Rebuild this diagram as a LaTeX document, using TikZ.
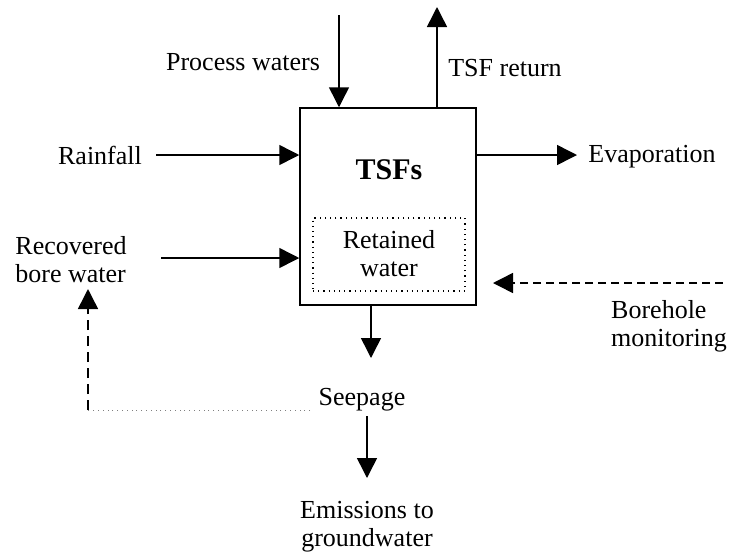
\documentclass[tikz,border=0pt]{standalone}
\usepackage{fontspec}
\setmainfont{Liberation Serif}
\usetikzlibrary{arrows.meta}
\begin{document}
\begin{tikzpicture}[x=0.5pt,y=-0.5pt,
  every node/.style={font=\fontsize{13}{14}\selectfont, inner sep=0pt, align=center},
  flow/.style={line width=0.75pt, -{Triangle[length=10pt,width=10pt]}},
  dflow/.style={flow, dash pattern=on 4pt off 2.5pt}]
  \useasboundingbox (0,0) rectangle (729,553);

  % tailings storage facility and its retained water
  \node[draw, line width=0.75pt, minimum width=88pt, minimum height=98.5pt] (box) at (388,206.5) {};
  \node[draw, dotted, line width=0.6pt, minimum width=76pt, minimum height=36.5pt] (inner) at (389,254.5) {};
  \node (tsfs) at (389,170) {\fontsize{15}{17}\selectfont\bfseries TSFs};
  \node (ret) at (389,254) {Retained\\water};

  % labels
  \node (pw) at (243,62) {Process waters};
  \node (ret2) at (505,68) {TSF return};
  \node (rain) at (100,155) {Rainfall};
  \node (evap) at (652,157) {Evaporation};
  \node[align=left] (rbw) at (71,260) {Recovered\\bore water};
  \node[align=left] (bm) at (669,326) {Borehole\\monitoring};
  \node (seep) at (362,400) {Seepage};
  \node (emis) at (367,527) {Emissions to\\groundwater};

  % free ends of the connectors
  \coordinate (pwtop) at (339,15);
  \coordinate (rettop) at (437,7);
  \coordinate (rainst) at (156,155);
  \coordinate (evapend) at (577,155);
  \coordinate (rbwst) at (161,258);
  \coordinate (bmst) at (723,283);
  \coordinate (bmend) at (493,283);
  \coordinate (seeptip) at (371,358);
  \coordinate (sdown) at (367,416);
  \coordinate (emtip) at (367,478);
  \coordinate (dotend) at (310,410);
  \coordinate (corner) at (88,410);
  \coordinate (uptip) at (88,289);

  % flows
  \draw[flow] (pwtop) -- (pwtop |- box.north);
  \draw[flow] (rettop |- box.north) -- (rettop);
  \draw[flow] (rainst) -- (box.west |- rainst);
  \draw[flow] (box.east |- evapend) -- (evapend);
  \draw[flow] (rbwst) -- (box.west |- rbwst);
  \draw[dflow] (bmst) -- (bmend);
  \draw[flow] (seeptip |- box.south) -- (seeptip);
  \draw[flow] (sdown) -- (emtip);
  \draw[line width=0.4pt, dotted, gray] (dotend) -- (corner);
  \draw[flow, dash pattern=on 5pt off 3pt] (corner) -- (uptip);
\end{tikzpicture}
\end{document}
